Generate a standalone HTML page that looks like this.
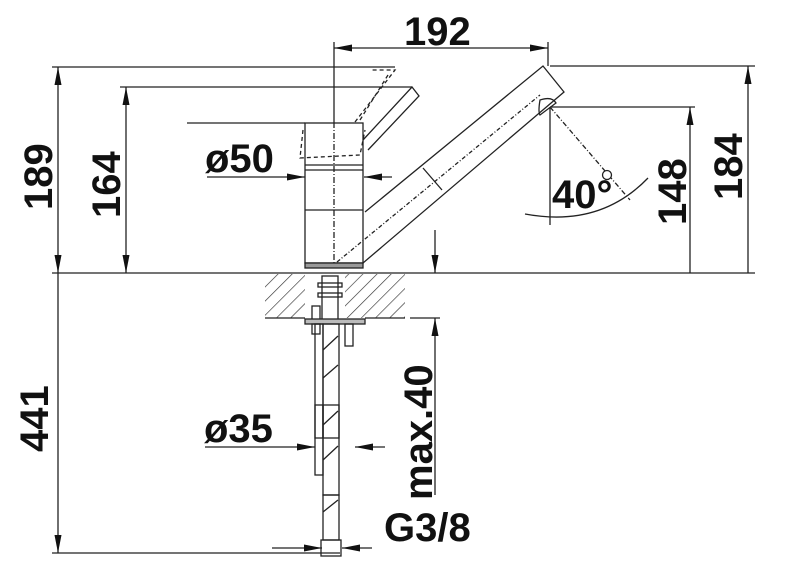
<!DOCTYPE html>
<html><head><style>html,body{margin:0;padding:0;background:#fff;}svg{display:block}</style></head>
<body>
<svg width="800" height="568" viewBox="0 0 800 568" xmlns="http://www.w3.org/2000/svg" font-family="Liberation Sans, sans-serif" font-weight="bold">
<defs>
<marker id="a" viewBox="0 0 18 7" refX="18" refY="3.5" markerWidth="18" markerHeight="7" markerUnits="userSpaceOnUse" orient="auto-start-reverse"><path d="M0,0 L18,3.5 L0,7z" fill="#111"/></marker>
<pattern id="h" width="10" height="10" patternUnits="userSpaceOnUse" patternTransform="rotate(45)"><line x1="0" y1="0" x2="0" y2="10" stroke="#333" stroke-width="1.3"/></pattern>
</defs>
<g stroke="#222" stroke-width="1.3" fill="none">
<line x1="52" y1="67" x2="395" y2="67"/>
<line x1="120" y1="87" x2="412" y2="87"/>
<line x1="187" y1="123" x2="305" y2="123"/>
<line x1="550" y1="66" x2="755" y2="66"/>
<line x1="550" y1="107" x2="695" y2="107"/>
<line x1="52" y1="273" x2="755" y2="273"/>
<line x1="52" y1="553" x2="340" y2="553"/>
<line x1="334" y1="42" x2="334" y2="122"/>
<line x1="548" y1="42" x2="548" y2="66"/>
<line x1="550" y1="107" x2="550" y2="225"/>
<line x1="58" y1="67" x2="58" y2="273" marker-start="url(#a)" marker-end="url(#a)"/>
<line x1="58" y1="273" x2="58" y2="553" marker-end="url(#a)"/>
<line x1="126" y1="87" x2="126" y2="273" marker-start="url(#a)" marker-end="url(#a)"/>
<line x1="690" y1="107" x2="690" y2="273" marker-start="url(#a)"/>
<line x1="748" y1="66" x2="748" y2="273" marker-start="url(#a)"/>
<line x1="334" y1="48" x2="548" y2="48" marker-start="url(#a)" marker-end="url(#a)"/>
<line x1="207" y1="177" x2="305" y2="177" marker-end="url(#a)"/>
<line x1="392" y1="177" x2="364" y2="177" marker-end="url(#a)"/>
<line x1="435" y1="230" x2="435" y2="273" marker-end="url(#a)"/>
<line x1="435" y1="495" x2="435" y2="318" marker-end="url(#a)"/>
<line x1="410" y1="318" x2="440" y2="318"/>
<line x1="205" y1="447" x2="315" y2="447" marker-end="url(#a)"/>
<line x1="385" y1="447" x2="355" y2="447" marker-end="url(#a)"/>
<line x1="272" y1="548" x2="322" y2="548" marker-end="url(#a)"/>
<line x1="372" y1="548" x2="342" y2="548" marker-end="url(#a)"/>
<rect x="265" y="274" width="40" height="44" fill="url(#h)" stroke="none"/>
<rect x="345" y="274" width="60" height="44" fill="url(#h)" stroke="none"/>
<line x1="265" y1="318" x2="305" y2="318"/>
<line x1="365" y1="318" x2="405" y2="318"/>
<rect x="305" y="123" width="58" height="140"/>
<line x1="305" y1="165" x2="363" y2="165"/>
<line x1="305" y1="170" x2="363" y2="170"/>
<line x1="305" y1="210" x2="363" y2="210"/>
<rect x="305" y="263" width="58" height="5" fill="#999"/>
<line x1="334" y1="122" x2="334" y2="265" stroke-dasharray="6,2,1,2"/>
<path d="M363,140 L412,87 L419,96 L368,150"/>
<path d="M355,122 L395,70 L372,70 M360,120 L388,75 M303,130 L300,158 L360,155 L365,130" stroke-dasharray="4,3"/>
<path d="M365,212 L543,66 L564,92 L363,263"/>
<line x1="423" y1="168" x2="442" y2="190"/>
<path d="M540,100 Q538,112 540,115 L556,103 Q552,96 540,100z"/>
<line x1="337" y1="262" x2="540" y2="95" stroke-dasharray="4,2,1,2"/>
<line x1="550" y1="107" x2="630" y2="200" stroke-dasharray="5,2,1,2"/>
<circle cx="607" cy="175" r="4.5" fill="#fff"/>
<path d="M525,214 Q600,228 648,178"/>
<rect x="322" y="276" width="16" height="44"/>
<rect x="318" y="283" width="24" height="4"/>
<rect x="318" y="293" width="24" height="4"/>
<rect x="312" y="306" width="8" height="14"/>
<rect x="305" y="319" width="60" height="5" fill="#bbb"/>
<rect x="312" y="324" width="8" height="10"/>
<rect x="345" y="324" width="8" height="22"/>
<rect x="315" y="324" width="8" height="114"/>
<rect x="323" y="324" width="16" height="114"/>
<rect x="315" y="405" width="8" height="70"/>
<rect x="323" y="405" width="16" height="90"/>
<rect x="323" y="495" width="16" height="45"/>
<rect x="321" y="540" width="20" height="16"/>
<path d="M323,350 L338,336 M323,378 L338,365 M323,425 L338,411 M323,460 L338,446 M323,512 L338,500"/>
</g>
<g fill="#111" font-size="40">
<text x="404" y="45">192</text>
<text x="205" y="172">ø50</text>
<text x="204" y="442">ø35</text>
<text x="384" y="541">G3/8</text>
<text x="552" y="208">40°</text>
<text transform="translate(52,210) rotate(-90)">189</text>
<text transform="translate(120,218) rotate(-90)">164</text>
<text transform="translate(686,225) rotate(-90)">148</text>
<text transform="translate(742,200) rotate(-90)">184</text>
<text transform="translate(48,452) rotate(-90)">441</text>
<text transform="translate(432,500) rotate(-90)">max.40</text>
</g>
</svg>
</body></html>
